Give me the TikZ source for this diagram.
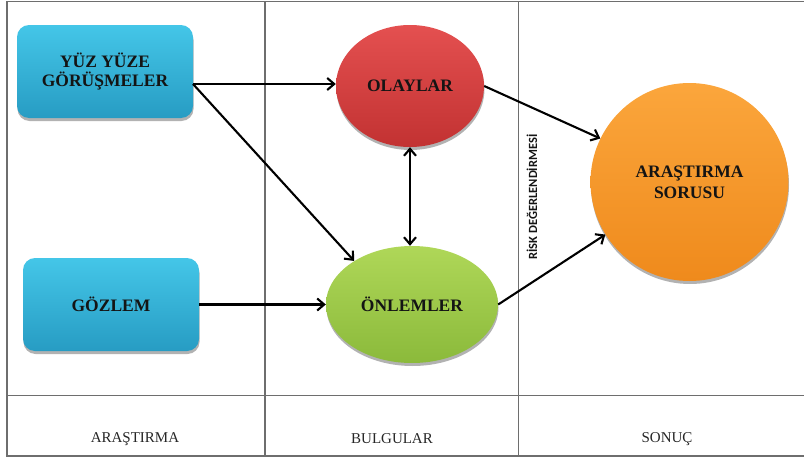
\documentclass[tikz,border=0pt]{standalone}
\usepackage{fontspec}
\setmainfont{Liberation Serif}
\newfontfamily\labelsans{Carlito}
\usetikzlibrary{shapes.geometric,arrows.meta,shadows}

\definecolor{gridline}{HTML}{6E6E6E}
\definecolor{boxtop}{HTML}{44C6E8}
\definecolor{boxbot}{HTML}{279CC3}
\definecolor{redtop}{HTML}{E45050}
\definecolor{redbot}{HTML}{C23232}
\definecolor{greentop}{HTML}{AFD758}
\definecolor{greenbot}{HTML}{8BBA3B}
\definecolor{orangetop}{HTML}{FBA63C}
\definecolor{orangebot}{HTML}{EF8A1C}
\definecolor{inktext}{HTML}{141414}

\tikzset{
  barbtip/.tip={Straight Barb[length=7pt,width=12pt,line width=2.1pt]},
  softshadow/.style={drop shadow={shadow xshift=0.5pt, shadow yshift=-3pt, opacity=0.3, fill=black}},
  methodbox/.style={rectangle, rounded corners=12pt, minimum width=176pt, minimum height=93pt,
    top color=boxtop, bottom color=boxbot, draw=none, softshadow,
    font=\fontsize{17.5}{19}\selectfont\bfseries, text=inktext, align=center},
  findnode/.style={ellipse, inner sep=0pt, draw=none, softshadow,
    font=\fontsize{17.5}{19}\selectfont\bfseries, text=inktext, align=center},
  resultnode/.style={circle, inner sep=0pt, minimum size=198pt, draw=none, softshadow,
    top color=orangetop, bottom color=orangebot,
    font=\fontsize{17.5}{21}\selectfont\bfseries, text=inktext, align=center},
  flow/.style={line width=2.1pt, -barbtip},
  flowboth/.style={line width=2.1pt, barbtip-barbtip},
  colhead/.style={font=\fontsize{15}{17}\selectfont, text=black!85},
  gridrule/.style={draw=gridline, line width=1.3pt}
}

\begin{document}
\begin{tikzpicture}[x=1pt, y=-1pt]
  \useasboundingbox (0,0) rectangle (804,458);

  % table frame
  \draw[gridrule] (804,1.5) -- (7,1.5) -- (7,456) -- (804,456);
  \draw[gridrule] (7,395.5) -- (804,395.5);
  \draw[gridrule] (265,1.5) -- (265,456);
  \draw[gridrule] (518.5,1.5) -- (518.5,456);

  % column headings
  \node[colhead] (hA) at (135,439) {ARAŞTIRMA};
  \node[colhead] (hB) at (392,439) {BULGULAR};
  \node[colhead] (hC) at (667,439) {SONUÇ};

  % research methods
  \node[methodbox] (yuz) at (105,71.5) {YÜZ YÜZE\\GÖRÜŞMELER};
  \node[methodbox] (goz) at (111,304.5) {GÖZLEM};

  % findings
  \node[findnode, minimum width=148pt, minimum height=122pt,
        top color=redtop, bottom color=redbot] (olay) at (410,86) {OLAYLAR};
  \node[findnode, minimum width=172pt, minimum height=117pt,
        top color=greentop, bottom color=greenbot] (onl) at (412,304.5) {ÖNLEMLER};

  % outcome
  \node[resultnode] (sor) at (689.5,182) {ARAŞTIRMA\\SORUSU};

  % risk assessment label
  \node[rotate=90, font=\labelsans\fontsize{12.5}{14}\selectfont\bfseries, text=inktext]
    (risk) at (532,197) {RİSK DEĞERLENDİRMESİ};

  % connectors
  \coordinate (yo) at (193,84);
  \draw[flow] (yo) -- (olay.west |- yo);
  \draw[flow] (yo) -- (onl.143);
  \draw[flow] (goz.east) -- (onl.west);
  \draw[flowboth] (olay.south) -- (olay.south |- onl.north);
  \draw[flow] (olay.east) -- (sor.154);
  \draw[flow] (onl.east) -- (sor.212);
\end{tikzpicture}
\end{document}
